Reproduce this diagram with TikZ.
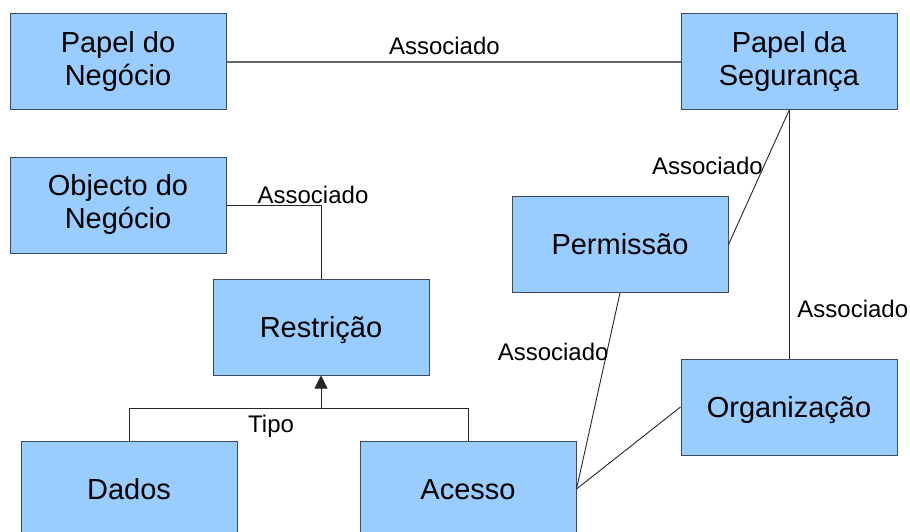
\documentclass[tikz,border=0pt]{standalone}
\usepackage{fontspec}
\setmainfont{Liberation Sans}
\usetikzlibrary{arrows.meta, calc}
\definecolor{caixa}{HTML}{99CCFF}
\definecolor{borda}{HTML}{3D4A5C}
\tikzset{entidade/.style={draw=borda, fill=caixa, line width=1pt, minimum width=216pt, minimum height=96pt, align=center, inner sep=0pt, font=\fontsize{29}{33}\selectfont}}
\tikzset{simples/.style={entidade, text height=20pt, text depth=0pt}}
\tikzset{ligacao/.style={draw=black!85, line width=0.9pt}}
\tikzset{rotulo/.style={font=\fontsize{24}{28}\selectfont, inner sep=1pt}}

\begin{document}
\begin{tikzpicture}[x=1pt, y=-1pt]
		\useasboundingbox (0,0) rectangle (910,532);
		\clip (0,0) rectangle (910,532);

		% Entidades
		\node[entidade] (pneg) at (118,62) {Papel do\\Negócio};
		\node[entidade] (pseg) at (789,62) {Papel da\\Segurança};
		\node[entidade] (obj) at (118,205) {Objecto do\\Negócio};
		\node[simples] (restr) at (321,327) {Restrição};
		\node[simples] (perm) at (620,244.5) {Permissão};
		\node[simples] (org) at (789,407) {Organização};
		\node[simples] (dados) at (129,489) {Dados};
		\node[simples] (acesso) at (468,489) {Acesso};

		% Coordinates
		\coordinate (tipo) at ($(restr.south)+(0,33)$);

		% Associacoes
		\draw[ligacao, draw=black!60, line width=1.3pt] (pneg) -- node[rotulo, pos=0.48, above=6pt] {Associado} (pseg);
		\draw[ligacao] (obj.east) -| node[rotulo, pos=0.5, above, xshift=-8pt] {Associado} (restr.north);
		\draw[ligacao] (pseg.south) -- node[rotulo, pos=0.41, left] {Associado} (perm.east);
		\draw[ligacao] (pseg.south) -- node[rotulo, pos=0.8, right=7pt] {Associado} (org.north);
		\draw[ligacao] (perm.south) -- node[rotulo, pos=0.3, left=-3pt] {Associado} (acesso.east);
		\draw[ligacao] (org.west) -- (acesso.east);

		% Tipo
		\draw[ligacao] (dados.north) |- node[rotulo, pos=0.87, below=5pt] {Tipo} (tipo) -| (acesso.north);
		\draw[ligacao, -{Triangle[width=13pt, length=13pt]}] (tipo) -- (restr.south);
	\end{tikzpicture}
\end{document}
